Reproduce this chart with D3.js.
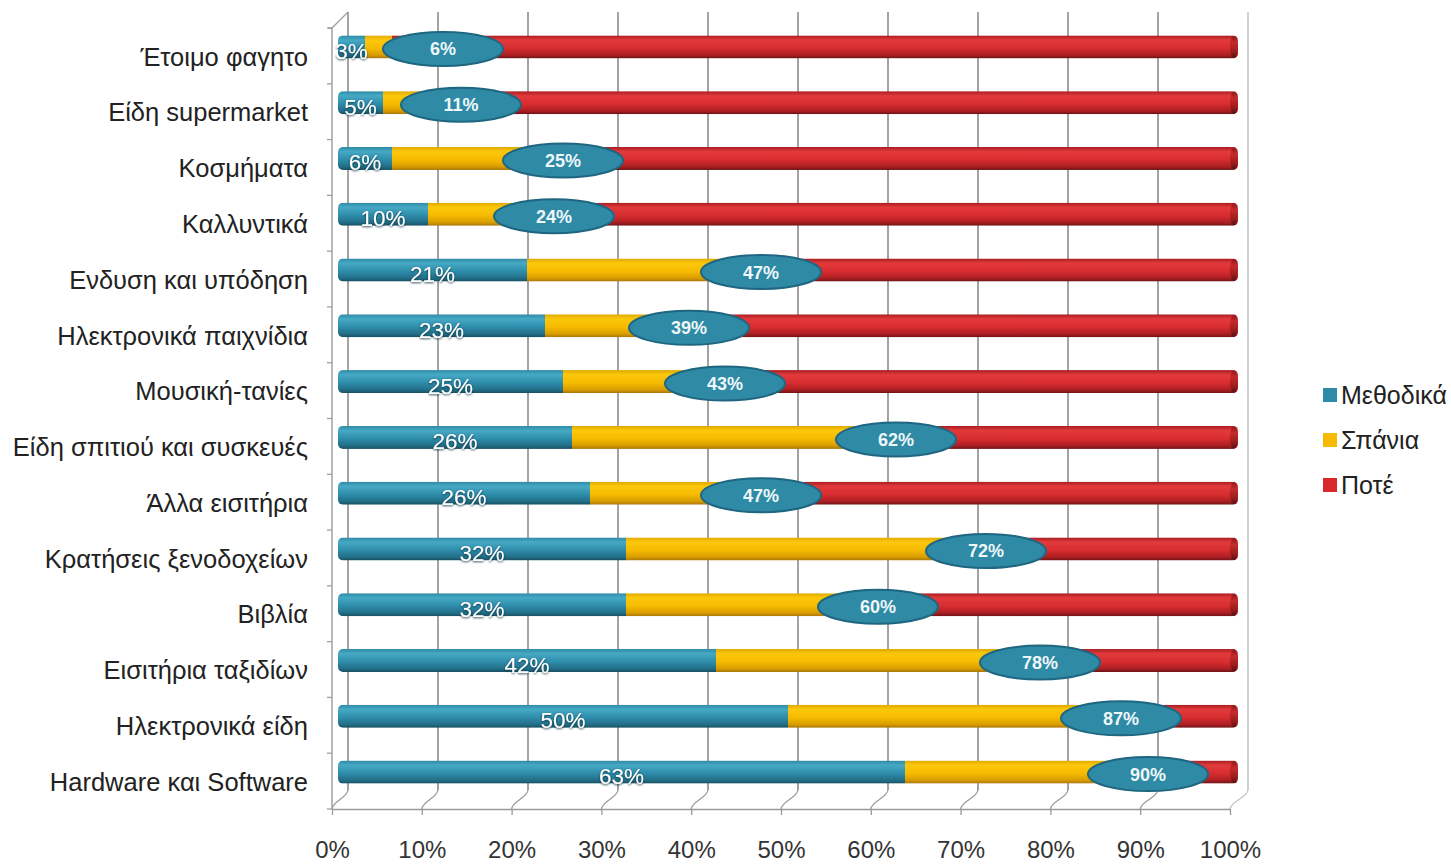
<!DOCTYPE html>
<html>
<meta charset="utf-8">
<style>
  body { margin: 0; background: #fff; }
  svg { width: 1451px; height: 865px; display: block; }
  text { font-family: "Liberation Sans", Arial, sans-serif; }
  .axis path, .axis line { fill: none; }
</style>
<body>
  <svg></svg>
</body>

<script src="https://cdn.jsdelivr.net/npm/d3@7/dist/d3.min.js"></script>

<script>

  // DATA
  var categories = ["Έτοιμο φαγητο", "Είδη supermarket", "Κοσμήματα", "Καλλυντικά",
    "Ενδυση και υπόδηση", "Ηλεκτρονικά παιχνίδια", "Μουσική-τανίες",
    "Είδη σπιτιού και συσκευές", "Άλλα εισιτήρια", "Κρατήσεις ξενοδοχείων",
    "Βιβλία", "Εισιτήρια ταξιδίων", "Ηλεκτρονικά είδη", "Hardware και Software"];
  var methodika = [3, 5, 6, 10, 21, 23, 25, 26, 28, 32, 32, 42, 50, 63];
  var spania    = [3, 6, 19, 14, 26, 16, 18, 36, 19, 40, 28, 36, 37, 27];
  var pote      = [94, 89, 75, 76, 53, 61, 57, 38, 53, 28, 40, 22, 13, 10];
  // printed labels
  var methodikaLabels = [3, 5, 6, 10, 21, 23, 25, 26, 26, 32, 32, 42, 50, 63];
  var everLabels      = [6, 11, 25, 24, 47, 39, 43, 62, 47, 72, 60, 78, 87, 90];
  var seriesNames = ["Μεθοδικά", "Σπάνια", "Ποτέ"];
  var xTicks = [0, 10, 20, 30, 40, 50, 60, 70, 80, 90, 100];

  var keys = ["methodika", "spania", "pote"];
  var table = categories.map(function(c, i) {
    return {cat: c, methodika: methodika[i], spania: spania[i], pote: pote[i]};
  });

  var svg = d3.select("svg");
  var defs = svg.append("defs");

  // 3D-ish geometry
  var front = {left: 332, right: 1230, top: 28, bottom: 809};
  var depth = {dx: 16, dy: -19};

  var xFront = d3.scaleLinear().domain([0, 100]).range([front.left, front.right]);
  var xBack = d3.scaleLinear().domain([0, 100]).range([front.left + depth.dx, front.right + depth.dx + 2]);
  var xBar = d3.scaleLinear().domain([0, 100]).range([338, 1238]);
  var yBand = d3.scaleBand().domain(categories).range([front.top, front.bottom]);
  var barH = 23;
  var yBar = function(c) { return yBand(c) + yBand.bandwidth() / 2 - 9; };

  // GRADIENTS
  function grad(id, stops) {
    var g = defs.append("linearGradient").attr("id", id)
      .attr("x1", 0).attr("y1", 0).attr("x2", 0).attr("y2", 1);
    stops.forEach(function(s) {
      g.append("stop").attr("offset", s[0]).attr("stop-color", s[1]);
    });
  }
  grad("g-methodika", [["0%", "#2f8aa6"], ["20%", "#46a9c4"], ["55%", "#2e8dab"], ["85%", "#226f88"], ["100%", "#184f61"]]);
  grad("g-spania", [["0%", "#e0a800"], ["20%", "#fcc80c"], ["55%", "#f6bb00"], ["85%", "#d99d00"], ["100%", "#a8760a"]]);
  grad("g-pote", [["0%", "#a81c20"], ["20%", "#e23a3c"], ["55%", "#d92d30"], ["85%", "#ad1f23"], ["100%", "#6d1416"]]);
  grad("g-cap", [["0%", "#8a1a1c"], ["30%", "#c42b2d"], ["70%", "#9c1d20"], ["100%", "#5a1011"]]);

  var shadow = defs.append("filter").attr("id", "txtshadow")
    .attr("x", "-20%").attr("y", "-30%").attr("width", "140%").attr("height", "160%");
  shadow.append("feDropShadow").attr("dx", 0).attr("dy", 1).attr("stdDeviation", 1)
    .attr("flood-color", "#0b3341").attr("flood-opacity", 0.9);

  var colors = {methodika: "#2e8ba8", spania: "#f5bb00", pote: "#d8282c"};

  // BACK WALL GRIDLINES
  var grid = svg.append("g").attr("class", "grid");
  grid.selectAll("line.v").data(xTicks).enter().append("line")
    .attr("class", "v")
    .attr("x1", function(d) { return xBack(d); })
    .attr("x2", function(d) { return xBack(d); })
    .attr("y1", front.top + depth.dy + 3)
    .attr("y2", front.bottom + depth.dy)
    .attr("stroke", function(d) { return d === 100 ? "#c4c4c4" : "#8c8c8c"; })
    .attr("stroke-width", 1.6);

  // FLOOR: diagonals from front ticks to back
  grid.selectAll("path.fl").data(xTicks).enter().append("path")
    .attr("class", "fl")
    .attr("d", function(d) {
      var x0 = xFront(d), y0 = front.bottom, x1 = xBack(d), y1 = front.bottom + depth.dy;
      return "M" + x0 + "," + y0 + " C" + (x0 + 1) + "," + (y0 - 8) + " " + (x1 - 1) + "," + (y1 + 8) + " " + x1 + "," + y1;
    })
    .attr("fill", "none")
    .attr("stroke", function(d) { return d === 100 ? "#c4c4c4" : "#9a9a9a"; })
    .attr("stroke-width", 1.3);

  // LEFT WALL
  grid.append("line")
    .attr("x1", front.left).attr("x2", front.left)
    .attr("y1", front.top).attr("y2", front.bottom)
    .attr("stroke", "#a0a0a0").attr("stroke-width", 1.5);
  grid.append("path")
    .attr("d", "M" + (front.left - 4) + "," + front.top + " L" + front.left + "," + front.top +
      " L" + xBack(0) + "," + (front.top + depth.dy + 3))
    .attr("fill", "none").attr("stroke", "#a0a0a0").attr("stroke-width", 1.3);
  var bounds = categories.map(function(c) { return yBand(c); }).concat([front.bottom]);
  grid.selectAll("line.lt").data(bounds).enter().append("line")
    .attr("class", "lt")
    .attr("x1", front.left - 5).attr("x2", front.left)
    .attr("y1", function(d) { return d; }).attr("y2", function(d) { return d; })
    .attr("stroke", "#a0a0a0").attr("stroke-width", 1.3);

  // BARS (stacked)
  var stacked = d3.stack().keys(keys)(table);

  var clip = defs.selectAll("clipPath").data(table).enter().append("clipPath")
    .attr("id", function(d, i) { return "clip" + i; });
  clip.append("rect")
    .attr("x", xBar(0)).attr("y", function(d) { return yBar(d.cat) - barH / 2; })
    .attr("width", xBar(100) - xBar(0)).attr("height", barH)
    .attr("rx", 5);

  var barsG = svg.append("g").attr("class", "bars");
  var rowG = barsG.selectAll("g.row").data(table).enter().append("g")
    .attr("class", "row")
    .attr("clip-path", function(d, i) { return "url(#clip" + i + ")"; });

  rowG.each(function(d, i) {
    var g = d3.select(this);
    keys.forEach(function(k, ki) {
      var seg = stacked[ki][i];
      g.append("rect")
        .attr("x", xBar(seg[0]))
        .attr("y", yBar(d.cat) - barH / 2)
        .attr("width", xBar(seg[1]) - xBar(seg[0]))
        .attr("height", barH)
        .attr("fill", "url(#g-" + k + ")");
    });
  });

  // red end caps
  barsG.selectAll("ellipse.cap").data(table).enter().append("ellipse")
    .attr("class", "cap")
    .attr("cx", xBar(100) - 4)
    .attr("cy", function(d) { return yBar(d.cat); })
    .attr("rx", 4).attr("ry", barH / 2 - 0.5)
    .attr("fill", "url(#g-cap)");

  // LABELS: methodika values
  svg.append("g").selectAll("text").data(table).enter().append("text")
    .attr("x", function(d, i) { return (xBar(0) + xBar(methodika[i])) / 2; })
    .attr("y", function(d) { return yBar(d.cat) + 12; })
    .attr("text-anchor", "middle")
    .attr("font-size", "22.5px")
    .attr("fill", "#ffffff")
    .attr("filter", "url(#txtshadow)")
    .text(function(d, i) { return methodikaLabels[i] + "%"; });

  // LABELS: cumulative (ellipses)
  var ell = svg.append("g").selectAll("g").data(table).enter().append("g")
    .attr("transform", function(d, i) {
      var cx = Math.max(xBar(everLabels[i]), xBar(methodika[i]) + 78);
      return "translate(" + cx + "," + (yBar(d.cat) + 2) + ")";
    });
  ell.append("ellipse")
    .attr("rx", 60).attr("ry", 17)
    .attr("fill", "#2f8aa6")
    .attr("stroke", "#1f6680").attr("stroke-width", 2);
  ell.append("text")
    .attr("text-anchor", "middle")
    .attr("dy", "0.36em")
    .attr("font-size", "18px")
    .attr("font-weight", "bold")
    .attr("fill", "#eef7fa")
    .text(function(d, i) { return everLabels[i] + "%"; });

  // AXES
  var xAxis = d3.axisBottom(xFront).tickValues(xTicks)
    .tickFormat(function(d) { return d + "%"; })
    .tickSize(6).tickSizeOuter(0).tickPadding(26);
  var gx = svg.append("g").attr("class", "x axis")
    .attr("transform", "translate(0," + front.bottom + ")")
    .call(xAxis);
  gx.select(".domain").attr("stroke", "#9a9a9a").attr("stroke-width", 1.5);
  gx.selectAll(".tick line").attr("stroke", "#9a9a9a").attr("stroke-width", 1.3);
  gx.selectAll(".tick text").attr("font-size", "24px").attr("fill", "#333")
    .attr("font-family", "'Liberation Sans', Arial, sans-serif");

  var yAxis = d3.axisLeft(yBand).tickSize(0).tickPadding(24);
  var gy = svg.append("g").attr("class", "y axis")
    .attr("transform", "translate(" + front.left + ",0)")
    .call(yAxis);
  gy.select(".domain").remove();
  gy.selectAll(".tick text").attr("font-size", "25.5px").attr("fill", "#222")
    .attr("font-family", "'Liberation Sans', Arial, sans-serif")
    .attr("dy", "0.38em");

  // LEGEND
  var legend = svg.append("g").attr("transform", "translate(1323,388)");
  var li = legend.selectAll("g").data(seriesNames).enter().append("g")
    .attr("transform", function(d, i) { return "translate(0," + (i * 45) + ")"; });
  li.append("rect").attr("width", 14).attr("height", 14)
    .attr("fill", function(d, i) { return colors[keys[i]]; });
  li.append("text").attr("x", 18).attr("y", 7).attr("dy", "0.36em")
    .attr("font-size", "25px").attr("fill", "#222")
    .text(function(d) { return d; });

</script>
</html>
